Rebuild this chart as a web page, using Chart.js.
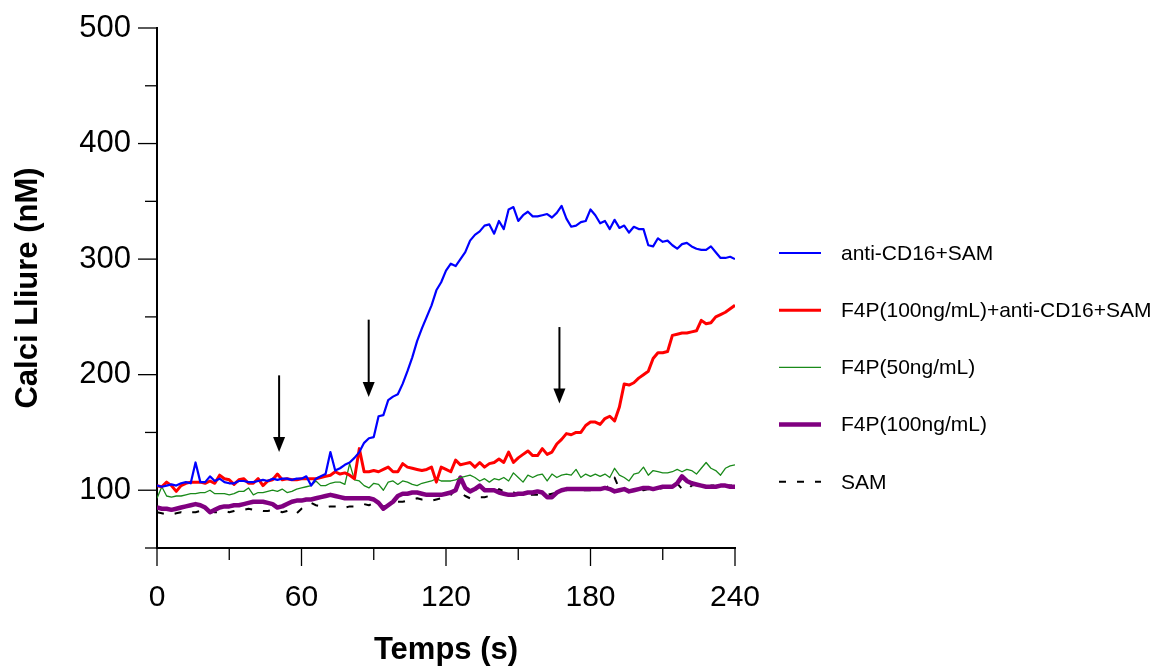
<!DOCTYPE html>
<html>
<head>
<meta charset="utf-8">
<script src="https://cdn.jsdelivr.net/npm/chart.js@4.4.1/dist/chart.umd.min.js"></script>
<style>
  html, body { margin: 0; padding: 0; background: #ffffff; }
  #wrap { width: 1151px; height: 666px; }
</style>
</head>
<body>
<div id="wrap"><canvas id="calci" width="1151" height="666"></canvas></div>
<script>
// Sampling times (s)
const times = [
  0, 2, 4, 6, 8, 10, 12, 14, 16, 18,
  20, 22, 24, 26, 28, 30, 32, 34, 36, 38,
  40, 42, 44, 46, 48, 50, 52, 54, 56, 58,
  60, 62, 64, 66, 68, 70, 72, 74, 76, 78,
  80, 82, 84, 86, 88, 90, 92, 94, 96, 98,
  100, 102, 104, 106, 108, 110, 112, 114, 116, 118,
  120, 122, 124, 126, 128, 130, 132, 134, 136, 138,
  140, 142, 144, 146, 148, 150, 152, 154, 156, 158,
  160, 162, 164, 166, 168, 170, 172, 174, 176, 178,
  180, 182, 184, 186, 188, 190, 192, 194, 196, 198,
  200, 202, 204, 206, 208, 210, 212, 214, 216, 218,
  220, 222, 224, 226, 228, 230, 232, 234, 236, 238,
  240
];

// Free calcium (nM) for each condition
const antiCD16SAM = [
  104, 103, 104, 105, 104, 106, 107, 106, 124, 107,
  107, 112, 108, 110, 107, 106, 106, 108, 108, 107,
  107, 108, 109, 108, 110, 109, 110, 110, 109, 110,
  110, 112, 104, 110, 112, 114, 133, 117, 119, 122,
  124, 128, 133, 141, 145, 146, 164, 165, 178, 181,
  183, 192, 203, 215, 229, 240, 250, 260, 273, 280,
  290, 296, 294, 300, 306, 316, 321, 324, 329, 330,
  322, 333, 326, 343, 345, 333, 338, 341, 337, 337,
  338, 339, 336, 340, 346, 335, 328, 329, 332, 333,
  343, 338, 331, 333, 326, 334, 327, 329, 323, 328,
  326, 326, 312, 311, 318, 315, 316, 312, 309, 313,
  314, 311, 309, 308, 308, 311, 306, 301, 301, 302,
  300
];

const f4p100AntiCD16SAM = [
  104, 103, 107, 104, 99, 104, 106, 107, 107, 107,
  106, 108, 106, 113, 110, 109, 105, 109, 110, 106,
  106, 110, 104, 108, 109, 114, 109, 110, 109, 109,
  110, 110, 110, 110, 111, 112, 113, 116, 114, 115,
  113, 110, 136, 116, 116, 117, 116, 118, 120, 116,
  116, 123, 120, 119, 118, 117, 118, 120, 107, 120,
  118, 116, 126, 122, 123, 124, 120, 124, 120, 123,
  124, 127, 124, 133, 124, 128, 131, 134, 130, 130,
  136, 131, 133, 140, 144, 149, 148, 150, 150, 156,
  159, 159, 157, 162, 164, 160, 172, 192, 191, 193,
  197, 200, 203, 214, 219, 219, 220, 234, 235, 236,
  236, 237, 238, 247, 244, 245, 250, 252, 254, 257,
  260
];

const f4p50 = [
  93, 103, 95, 94, 95, 95, 96, 97, 97, 98,
  98, 100, 97, 97, 97, 96, 97, 99, 99, 102,
  96, 98, 98, 99, 100, 99, 101, 98, 99, 101,
  102, 103, 104, 108, 104, 104, 106, 107, 107, 105,
  123, 109, 108, 104, 102, 106, 105, 100, 107, 108,
  105, 108, 107, 105, 104, 106, 107, 108, 110, 108,
  108, 108, 109, 111, 112, 113, 111, 108, 110, 107,
  110, 109, 111, 108, 115, 111, 107, 113, 111, 113,
  114, 108, 114, 111, 113, 114, 113, 118, 111, 114,
  112, 114, 112, 114, 111, 119, 113, 111, 108, 114,
  115, 120, 113, 117, 116, 115, 115, 116, 118, 116,
  118, 117, 114, 119, 124, 119, 117, 113, 119, 121,
  122
];

const f4p100 = [
  85, 84, 84, 83, 84, 85, 86, 87, 88, 87,
  85, 81, 83, 85, 86, 86, 87, 87, 88, 89,
  90, 90, 90, 89, 88, 85, 86, 88, 90, 91,
  91, 92, 92, 93, 94, 95, 96, 95, 94, 93,
  93, 93, 93, 93, 93, 92, 89, 84, 87, 90,
  95, 97, 97, 98, 98, 97, 96, 96, 96, 96,
  97, 98, 100, 111, 102, 99, 101, 104, 100, 100,
  100, 98, 97, 96, 96, 97, 97, 98, 98, 99,
  98, 94, 94, 98, 100, 101, 101, 101, 101, 101,
  101, 101, 101, 102, 101, 99, 100, 101, 99, 100,
  101, 102, 102, 101, 102, 103, 103, 103, 106, 112,
  108, 106, 105, 104, 103, 103, 103, 104, 104, 103,
  103
];

const sam = [
  81, 80, 79, 79, 80, 81, 80, 81, 81, 82,
  82, 82, 81, 81, 82, 81, 82, 83, 83, 84,
  83, 83, 82, 82, 83, 82, 81, 82, 83, 80,
  84, 86, 89, 87, 86, 85, 86, 86, 86, 85,
  86, 86, 87, 88, 87, 89, 87, 86, 87, 89,
  90, 90, 91, 92, 93, 92, 92, 91, 92, 93,
  94, 96, 101, 98, 95, 93, 93, 94, 94, 95,
  96, 101, 99, 98, 98, 97, 97, 96, 96, 96,
  95, 96, 97, 98, 99, 100, 101, 101, 100, 100,
  100, 100, 101, 102, 104, 111, 101, 100, 100, 100,
  101, 100, 101, 100, 101, 102, 102, 103, 106, 101,
  100, 104, 105, 104, 103, 104, 104, 103, 104, 104,
  104
];

// Axis ticks
const xMajorTicks = [0, 60, 120, 180, 240];
const xMinorTicks = [30, 90, 150, 210];
const yMajorTicks = [100, 200, 300, 400, 500];
const yMinorTicks = [50, 150, 250, 350, 450];

// Addition markers: time, arrow tail and arrow tip (nM)
const arrowTimes = [50.7, 87.9, 167.1];
const arrowTails = [199.4, 247.6, 241.2];
const arrowTips = [133.0, 180.6, 175.1];

const FONT = "'Liberation Sans', Arial, Helvetica, sans-serif";

const series = [
  { label: 'anti-CD16+SAM', values: antiCD16SAM, color: '#0000ff', width: 2.2, dash: [] },
  { label: 'F4P(100ng/mL)+anti-CD16+SAM', values: f4p100AntiCD16SAM, color: '#ff0000', width: 3, dash: [] },
  { label: 'F4P(50ng/mL)', values: f4p50, color: '#1a8a1a', width: 1.3, dash: [] },
  { label: 'F4P(100ng/mL)', values: f4p100, color: '#800080', width: 4.5, dash: [] },
  { label: 'SAM', values: sam, color: '#000000', width: 2, dash: [7, 11] }
];

// Major / minor tick marks outside the plot frame
const tickMarks = {
  id: 'tickMarks',
  afterDraw(chart) {
    const { ctx, chartArea: a, scales: { x, y } } = chart;
    ctx.save();
    ctx.strokeStyle = '#000';
    ctx.lineWidth = 1.3;
    const mark = (x1, y1, x2, y2) => { ctx.beginPath(); ctx.moveTo(x1, y1); ctx.lineTo(x2, y2); ctx.stroke(); };
    yMajorTicks.forEach(v => { const p = y.getPixelForValue(v); mark(a.left - 19, p, a.left, p); });
    yMinorTicks.forEach(v => { const p = y.getPixelForValue(v); mark(a.left - 12, p, a.left, p); });
    xMajorTicks.forEach(v => { const p = x.getPixelForValue(v); mark(p, a.bottom, p, a.bottom + 18); });
    xMinorTicks.forEach(v => { const p = x.getPixelForValue(v); mark(p, a.bottom, p, a.bottom + 12); });
    ctx.restore();
  }
};

// Downward arrows marking additions
const additionArrows = {
  id: 'additionArrows',
  afterDatasetsDraw(chart) {
    const { ctx, scales: { x, y } } = chart;
    ctx.save();
    ctx.strokeStyle = '#000';
    ctx.fillStyle = '#000';
    ctx.lineWidth = 2;
    arrowTimes.forEach((t, i) => {
      const px = x.getPixelForValue(t);
      const top = y.getPixelForValue(arrowTails[i]);
      const tip = y.getPixelForValue(arrowTips[i]);
      const head = 15, half = 6;
      ctx.beginPath();
      ctx.moveTo(px, top);
      ctx.lineTo(px, tip - head + 1);
      ctx.stroke();
      ctx.beginPath();
      ctx.moveTo(px - half, tip - head);
      ctx.lineTo(px + half, tip - head);
      ctx.lineTo(px, tip);
      ctx.closePath();
      ctx.fill();
    });
    ctx.restore();
  }
};

// Legend to the right of the plot
const sideLegend = {
  id: 'sideLegend',
  afterDraw(chart) {
    const { ctx } = chart;
    const x0 = 779, sampleLen = 42, textX = 841, rowY = 253, rowGap = 57.2;
    ctx.save();
    ctx.font = '21px ' + FONT;
    ctx.textBaseline = 'middle';
    ctx.textAlign = 'left';
    chart.data.datasets.forEach((ds, i) => {
      const yy = rowY + i * rowGap;
      ctx.strokeStyle = ds.borderColor;
      ctx.lineWidth = ds.borderWidth;
      ctx.setLineDash(ds.borderDash || []);
      ctx.beginPath();
      ctx.moveTo(x0, yy);
      ctx.lineTo(x0 + sampleLen, yy);
      ctx.stroke();
      ctx.setLineDash([]);
      ctx.fillStyle = '#000';
      ctx.fillText(ds.label, textX, yy + 1);
    });
    ctx.restore();
  }
};

new Chart(document.getElementById('calci'), {
  type: 'line',
  data: {
    datasets: series.map(s => ({
      label: s.label,
      data: times.map((t, i) => ({ x: t, y: s.values[i] })),
      borderColor: s.color,
      backgroundColor: s.color,
      borderWidth: s.width,
      borderDash: s.dash,
      borderJoinStyle: 'round',
      pointRadius: 0,
      fill: false,
      tension: 0
    }))
  },
  options: {
    responsive: false,
    animation: false,
    devicePixelRatio: 1,
    layout: { padding: { left: 0, top: 28, right: 416, bottom: 0 } },
    plugins: { legend: { display: false }, tooltip: { enabled: false } },
    scales: {
      x: {
        type: 'linear',
        position: 'bottom',
        min: 0,
        max: 240,
        afterBuildTicks: s => { s.ticks = xMajorTicks.concat(xMinorTicks).sort((a, b) => a - b).map(v => ({ value: v })); },
        afterFit: s => { s.height = 118; s.paddingLeft = 0; s.paddingRight = 0; },
        grid: { display: false, drawTicks: false },
        border: { display: true, color: '#000', width: 2 },
        ticks: {
          color: '#000',
          font: { family: FONT, size: 30 },
          padding: 32,
          maxRotation: 0,
          autoSkip: false,
          callback: v => (xMajorTicks.includes(v) ? String(v) : '')
        },
        title: {
          display: true,
          text: 'Temps (s)',
          color: '#000',
          font: { family: FONT, size: 31, weight: 'bold', lineHeight: 1 },
          padding: { top: 0, bottom: 0 }
        }
      },
      y: {
        type: 'linear',
        position: 'left',
        min: 50,
        max: 500,
        afterBuildTicks: s => { s.ticks = yMinorTicks.concat(yMajorTicks).sort((a, b) => a - b).map(v => ({ value: v })); },
        afterFit: s => { s.width = 157; s.paddingTop = 0; s.paddingBottom = 0; },
        grid: { display: false, drawTicks: false },
        border: { display: true, color: '#000', width: 2 },
        ticks: {
          color: '#000',
          font: { family: FONT, size: 31 },
          padding: 26,
          autoSkip: false,
          callback: v => (yMajorTicks.includes(v) ? String(v) : '')
        },
        title: {
          display: true,
          text: 'Calci Lliure (nM)',
          color: '#000',
          font: { family: FONT, size: 31, weight: 'bold', lineHeight: 1 },
          padding: { top: 12.5, bottom: 0 }
        }
      }
    }
  },
  plugins: [tickMarks, additionArrows, sideLegend]
});
</script>
</body>
</html>
